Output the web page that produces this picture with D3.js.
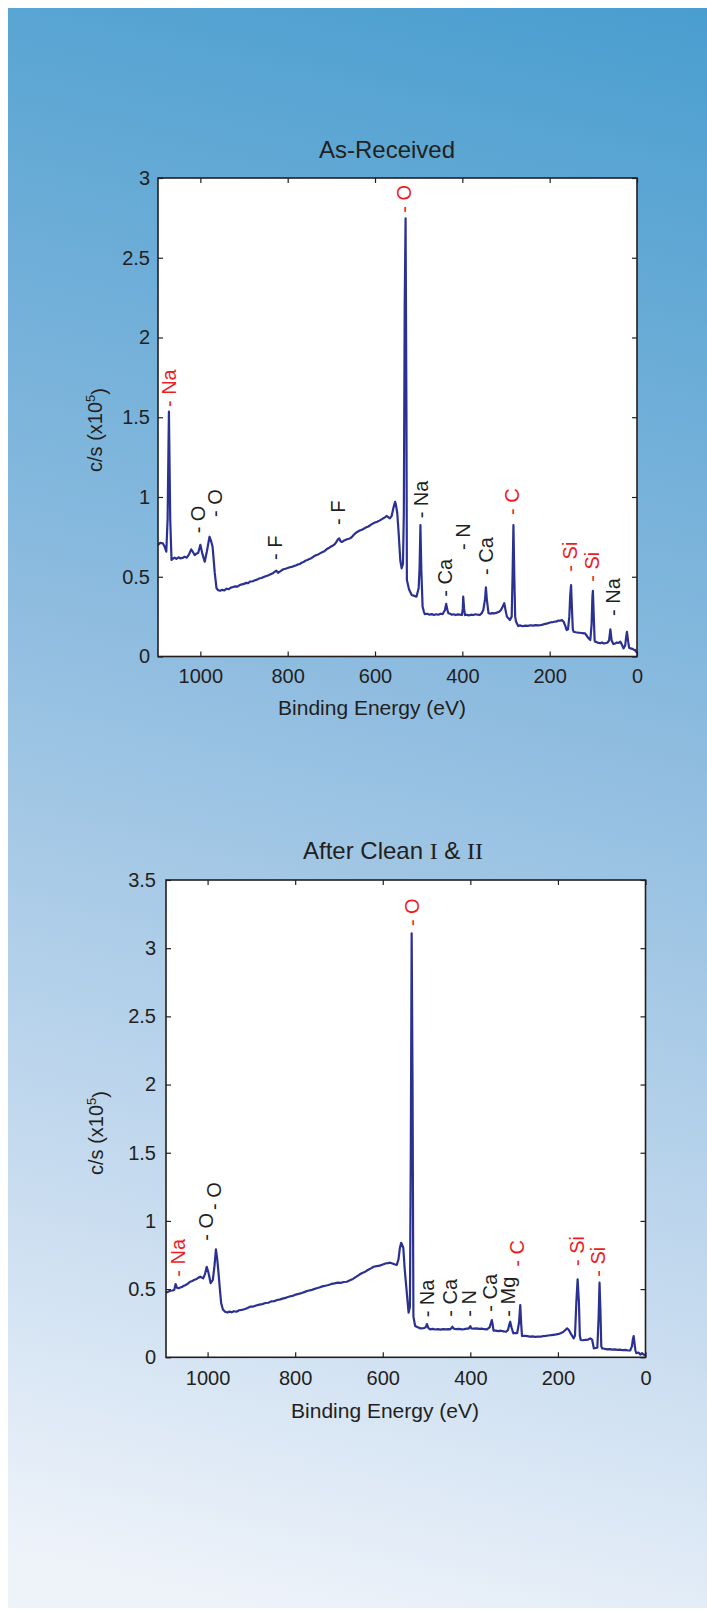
<!DOCTYPE html>
<html>
<head>
<meta charset="utf-8">
<script src="https://d3js.org/d3.v7.min.js"></script>
<style>
  body { margin: 0; background: #ffffff; }
  svg text { font-family: "Liberation Sans", Arial, Helvetica, sans-serif; fill: #231f20; }
</style>
</head>
<body>
<div id="chart"></div>
<script>
// tick values
var xTicks = [1000, 800, 600, 400, 200, 0];
var yTicksTop = [0, 0.5, 1, 1.5, 2, 2.5, 3];
var yTicksBottom = [0, 0.5, 1, 1.5, 2, 2.5, 3, 3.5];

// survey spectrum, as received: [binding energy (eV), c/s x10^5]
var asReceived = [
  [1097,0.70],[1092,0.712],[1086,0.71],[1082,0.69],[1078,0.657],[1075,0.86],[1072,1.535],[1069,0.86],
  [1066,0.605],[1062,0.615],[1059,0.62],[1055,0.612],[1050,0.622],[1046,0.615],[1041,0.618],[1036,0.625],
  [1031,0.62],[1026,0.64],[1021,0.672],[1017,0.655],[1013,0.636],[1009,0.645],[1005,0.649],[1000,0.70],
  [995,0.64],[990,0.594],[985,0.66],[979,0.751],[975,0.72],[972,0.688],[967,0.524],[963,0.428],
  [959,0.415],[955,0.412],[950,0.418],[945,0.414],[940,0.425],[935,0.422],[930,0.432],[925,0.436],
  [920,0.44],[915,0.438],[910,0.448],[905,0.452],[900,0.455],[895,0.462],[890,0.46],[887,0.469],
  [880,0.472],[875,0.478],[870,0.482],[865,0.49],[860,0.492],[855,0.498],[849,0.505],[845,0.508],
  [840,0.515],[835,0.52],[830,0.53],[826,0.538],[822,0.525],[818,0.532],[814,0.54],[810,0.547],
  [805,0.55],[800,0.555],[795,0.56],[790,0.562],[785,0.568],[780,0.572],[776,0.578],[772,0.58],
  [768,0.588],[764,0.592],[760,0.6],[755,0.605],[750,0.612],[745,0.618],[740,0.628],[734,0.636],
  [730,0.64],[725,0.648],[720,0.655],[716,0.66],[711,0.672],[706,0.68],[702,0.688],[697,0.695],
  [692,0.705],[688,0.72],[685,0.735],[682,0.741],[679,0.722],[676,0.718],[672,0.725],[668,0.73],
  [664,0.735],[660,0.738],[657,0.741],[652,0.752],[648,0.765],[644,0.775],[640,0.782],[635,0.79],
  [630,0.795],[625,0.802],[620,0.81],[615,0.815],[610,0.825],[604,0.835],[600,0.84],[595,0.845],
  [590,0.852],[585,0.86],[580,0.868],[576,0.875],[573,0.881],[569,0.872],[566,0.866],[562,0.88],
  [558,0.93],[554,0.97],[552,0.95],[549,0.898],[546,0.78],[542,0.6],[539,0.553],[536,0.58],
  [534,0.9],[532,2.2],[530,2.747],[528,1.5],[527,0.48],[522,0.42],[516,0.386],[510,0.38],
  [505,0.375],[500,0.43],[498,0.55],[496,0.824],[494,0.55],[491,0.312],[488,0.28],[486,0.266],
  [480,0.268],[475,0.262],[470,0.266],[465,0.26],[460,0.265],[455,0.262],[450,0.268],[445,0.266],
  [440,0.29],[437,0.33],[434,0.29],[432,0.271],[428,0.268],[424,0.262],[420,0.265],[415,0.26],
  [410,0.264],[405,0.262],[401,0.26],[399,0.3],[398,0.375],[396,0.3],[394,0.26],[390,0.262],
  [385,0.258],[380,0.262],[375,0.26],[370,0.265],[365,0.262],[360,0.26],[356,0.27],[352,0.292],
  [348,0.36],[346,0.434],[344,0.36],[340,0.271],[336,0.268],[332,0.272],[327,0.27],[321,0.275],
  [316,0.28],[312,0.29],[308,0.31],[304,0.334],[301,0.29],[298,0.25],[294,0.238],[291,0.229],
  [287,0.25],[285,0.5],[283,0.824],[281,0.5],[279,0.25],[277,0.218],[272,0.191],[268,0.195],
  [262,0.19],[256,0.194],[250,0.192],[244,0.196],[238,0.194],[232,0.197],[226,0.195],[222,0.196],
  [216,0.2],[210,0.205],[205,0.208],[199,0.213],[194,0.215],[189,0.218],[184,0.22],[180,0.225],
  [176,0.224],[172,0.229],[168,0.218],[164,0.19],[161,0.166],[158,0.17],[155,0.25],[153,0.38],
  [151,0.448],[149,0.3],[147,0.17],[145,0.155],[140,0.152],[135,0.15],[130,0.149],[125,0.146],
  [119,0.145],[115,0.13],[111,0.114],[107,0.103],[104,0.2],[102,0.38],[101,0.412],[99,0.25],
  [97,0.1],[96,0.093],[92,0.09],[88,0.085],[84,0.083],[80,0.088],[76,0.082],[73,0.083],
  [68,0.086],[64,0.1],[61,0.17],[58,0.1],[54,0.078],[50,0.082],[46,0.088],[42,0.085],
  [38,0.093],[34,0.07],[31,0.051],[27,0.07],[25,0.12],[23,0.155],[20,0.09],[18,0.055],
  [15,0.051],[10,0.048],[6,0.04],[4,0.041],[2,0.03],[0,0.022]
];

// survey spectrum after clean I & II
var afterClean = [
  [1095,0.474],[1090,0.48],[1085,0.488],[1080,0.49],[1076,0.495],[1073,0.537],[1070,0.51],[1067,0.506],
  [1062,0.512],[1058,0.518],[1054,0.525],[1050,0.53],[1045,0.54],[1040,0.554],[1035,0.56],[1030,0.568],
  [1025,0.575],[1020,0.585],[1017,0.591],[1013,0.585],[1010,0.579],[1006,0.61],[1002,0.664],[998,0.62],
  [993,0.543],[988,0.567],[984,0.68],[981,0.792],[978,0.72],[975,0.616],[972,0.5],[969,0.396],
  [965,0.35],[960,0.334],[955,0.328],[950,0.335],[945,0.33],[940,0.338],[934,0.334],[928,0.345],
  [922,0.348],[916,0.352],[910,0.36],[903,0.371],[896,0.372],[889,0.38],[882,0.386],[875,0.39],
  [868,0.398],[861,0.4],[855,0.41],[848,0.412],[841,0.42],[834,0.425],[827,0.432],[820,0.438],
  [813,0.446],[806,0.45],[799,0.46],[792,0.465],[785,0.472],[778,0.48],[771,0.488],[764,0.492],
  [757,0.5],[751,0.506],[745,0.512],[738,0.52],[731,0.525],[724,0.53],[717,0.538],[710,0.542],
  [703,0.548],[696,0.546],[689,0.552],[682,0.554],[675,0.565],[668,0.575],[661,0.59],[654,0.605],
  [647,0.618],[640,0.628],[634,0.64],[627,0.652],[621,0.664],[614,0.668],[607,0.672],[600,0.68],
  [594,0.688],[588,0.69],[583,0.694],[578,0.688],[573,0.682],[568,0.677],[564,0.72],[561,0.8],
  [558,0.84],[555,0.82],[553,0.8],[550,0.65],[545,0.469],[541,0.327],[538,0.371],[536,1.5],
  [534,3.108],[532,2.0],[530,0.298],[526,0.23],[520,0.22],[514,0.212],[507,0.213],[502,0.22],
  [499,0.244],[496,0.215],[492,0.205],[486,0.208],[480,0.204],[474,0.206],[468,0.203],[462,0.207],
  [456,0.205],[450,0.206],[446,0.205],[443,0.215],[441,0.224],[438,0.21],[432,0.206],[426,0.208],
  [420,0.205],[414,0.207],[408,0.21],[404,0.21],[402,0.22],[400,0.229],[398,0.212],[392,0.21],
  [386,0.212],[380,0.208],[374,0.21],[368,0.206],[362,0.205],[356,0.22],[353,0.25],[351,0.273],
  [349,0.24],[347,0.195],[342,0.196],[336,0.192],[330,0.195],[324,0.19],[318,0.188],[314,0.2],
  [311,0.24],[309,0.261],[306,0.22],[302,0.176],[298,0.178],[293,0.178],[289,0.25],[286,0.383],
  [284,0.25],[282,0.156],[276,0.158],[270,0.155],[264,0.152],[258,0.154],[252,0.15],[246,0.152],
  [240,0.151],[234,0.155],[228,0.157],[222,0.16],[216,0.162],[210,0.165],[204,0.168],[198,0.172],
  [194,0.176],[188,0.185],[183,0.2],[179,0.212],[175,0.2],[170,0.17],[166,0.15],[164,0.139],
  [161,0.16],[158,0.4],[155,0.572],[152,0.4],[150,0.16],[148,0.127],[143,0.125],[137,0.128],
  [131,0.13],[126,0.139],[122,0.13],[118,0.066],[114,0.068],[110,0.07],[107,0.3],[105,0.547],
  [103,0.35],[101,0.08],[99,0.066],[94,0.063],[88,0.058],[82,0.06],[76,0.056],[70,0.058],
  [64,0.054],[58,0.056],[52,0.052],[46,0.054],[40,0.05],[35,0.05],[31,0.08],[29,0.13],
  [27,0.156],[25,0.1],[23,0.05],[21,0.03],[16,0.035],[12,0.02],[8,0.03],[4,0.02],[0,0.017]
];

// peak labels: text, binding energy of the tick, value where the text starts, main element or not
var asReceivedLabels = [
  {text:"- Na", be:1068, at:1.564, main:true},
  {text:"- O",  be:1001, at:0.772, main:false},
  {text:"- O",  be:963,  at:0.875, main:false},
  {text:"- F",  be:826,  at:0.605, main:false},
  {text:"- F",  be:682,  at:0.824, main:false},
  {text:"- O",  be:530,  at:2.782, main:true},
  {text:"- Na", be:491,  at:0.866, main:false},
  {text:"- Ca", be:436,  at:0.375, main:false},
  {text:"- N",  be:394,  at:0.668, main:false},
  {text:"- Ca", be:343,  at:0.511, main:false},
  {text:"- C",  be:283,  at:0.887, main:true},
  {text:"- Si", be:151,  at:0.532, main:true},
  {text:"- Si", be:99.5, at:0.469, main:true},
  {text:"- Na", be:51,   at:0.254, main:false}
];

var afterCleanLabels = [
  {text:"- Na", be:1065, at:0.591, main:true},
  {text:"- O",  be:1001, at:0.855, main:false},
  {text:"- O",  be:982,  at:1.08,  main:false},
  {text:"- O",  be:530,  at:3.162, main:true},
  {text:"- Na", be:495,  at:0.293, main:false},
  {text:"- Ca", be:442,  at:0.298, main:false},
  {text:"- N",  be:400,  at:0.298, main:false},
  {text:"- Ca", be:352,  at:0.334, main:false},
  {text:"- Mg", be:310,  at:0.298, main:false},
  {text:"- C",  be:289,  at:0.664, main:true},
  {text:"- Si", be:154,  at:0.669, main:true},
  {text:"- Si", be:104.5,at:0.591, main:true}
];

var W = 707, H = 1612;
var lineColour = "#2b3192";
var redColour = "#ed1c24";

var svg = d3.select("#chart").append("svg")
  .attr("width", W)
  .attr("height", H);

// background gradient
var grad = svg.append("defs").append("linearGradient")
  .attr("id", "bg")
  .attr("gradientUnits", "userSpaceOnUse")
  .attr("x1", 640).attr("y1", 0)
  .attr("x2", 260).attr("y2", H);
grad.append("stop").attr("offset", 0).attr("stop-color", "#4a9ecf");
grad.append("stop").attr("offset", 0.45).attr("stop-color", "#90bde0");
grad.append("stop").attr("offset", 0.75).attr("stop-color", "#c3d9ee");
grad.append("stop").attr("offset", 1).attr("stop-color", "#eef3fa");

svg.append("rect")
  .attr("x", 8).attr("y", 8)
  .attr("width", W - 8).attr("height", H - 12)
  .attr("fill", "url(#bg)");

function drawPanel(p) {
  var g = svg.append("g");

  var x = d3.scaleLinear().domain([p.xMax, 0]).range([p.left, p.right]);
  var y = d3.scaleLinear().domain([0, p.yMax]).range([p.bottom, p.top]);

  g.append("rect")
    .attr("x", p.left).attr("y", p.top)
    .attr("width", p.right - p.left).attr("height", p.bottom - p.top)
    .attr("fill", "#ffffff");

  // axes, ticks pointing inward
  var bottomAxis = g.append("g")
    .attr("transform", "translate(0," + p.bottom + ")")
    .call(d3.axisBottom(x).tickValues(xTicks).tickFormat(d3.format("d"))
      .tickSizeInner(-5).tickSizeOuter(0).tickPadding(p.padX));
  var topAxis = g.append("g")
    .attr("transform", "translate(0," + p.top + ")")
    .call(d3.axisTop(x).tickValues(xTicks).tickFormat("")
      .tickSizeInner(-5).tickSizeOuter(0));
  var leftAxis = g.append("g")
    .attr("transform", "translate(" + p.left + ",0)")
    .call(d3.axisLeft(y).tickValues(p.yTicks).tickFormat(d3.format("~g"))
      .tickSizeInner(-5).tickSizeOuter(0).tickPadding(p.padY));
  var rightAxis = g.append("g")
    .attr("transform", "translate(" + p.right + ",0)")
    .call(d3.axisRight(y).tickValues(p.yTicks).tickFormat("")
      .tickSizeInner(-5).tickSizeOuter(0));

  [bottomAxis, topAxis, leftAxis, rightAxis].forEach(function(a) {
    a.select(".domain").remove();
    a.selectAll("line").attr("stroke", "#231f20").attr("stroke-width", 1.2);
    a.selectAll("text")
      .attr("fill", "#231f20")
      .style("font-size", "20px")
      .style("font-family", "'Liberation Sans', Arial, Helvetica, sans-serif");
  });

  // spectrum
  var line = d3.line()
    .x(function(d) { return x(d[0]); })
    .y(function(d) { return y(d[1]); });

  g.append("path")
    .datum(p.data)
    .attr("d", line)
    .attr("fill", "none")
    .attr("stroke", lineColour)
    .attr("stroke-width", 2.2)
    .attr("stroke-linejoin", "round");

  // frame
  g.append("rect")
    .attr("x", p.left).attr("y", p.top)
    .attr("width", p.right - p.left).attr("height", p.bottom - p.top)
    .attr("fill", "none")
    .attr("stroke", "#231f20")
    .attr("stroke-width", 1.6);

  // peak labels (rotated)
  g.selectAll(".peakLabel")
    .data(p.labels)
    .enter()
    .append("text")
    .attr("class", "peakLabel")
    .attr("transform", function(d) {
      return "translate(" + (x(d.be) + 5.5) + "," + y(d.at) + ") rotate(-90)";
    })
    .style("font-size", "20px")
    .style("fill", function(d) { return d.main ? redColour : "#231f20"; })
    .text(function(d) { return d.text; });

  // title
  var title = g.append("text")
    .attr("x", p.titleX).attr("y", p.titleY)
    .attr("text-anchor", "middle")
    .style("font-size", "24px");
  p.title.forEach(function(t) {
    title.append("tspan")
      .style("font-family", t.serif ? "'Liberation Serif', 'Times New Roman', serif" : null)
      .text(t.s);
  });

  // x label
  g.append("text")
    .attr("x", p.xlabelX).attr("y", p.xlabelY)
    .attr("text-anchor", "middle")
    .style("font-size", "21px")
    .text("Binding Energy (eV)");

  // y label
  var yl = g.append("text")
    .attr("transform", "translate(" + p.ylabelX + "," + p.ylabelY + ") rotate(-90)")
    .attr("text-anchor", "middle")
    .style("font-size", "20px");
  yl.append("tspan").text("c/s (x10");
  yl.append("tspan").attr("dy", "-0.55em").style("font-size", "13px").text("5");
  yl.append("tspan").attr("dy", "0.55em").text(")");
}

drawPanel({
  data: asReceived, labels: asReceivedLabels, yTicks: yTicksTop,
  left: 158, right: 637, top: 178, bottom: 656.5, xMax: 1097, yMax: 3,
  padX: 12, padY: 8,
  title: [{s:"As-Received"}], titleX: 387, titleY: 158,
  xlabelX: 372, xlabelY: 715, ylabelX: 102, ylabelY: 430
});

drawPanel({
  data: afterClean, labels: afterCleanLabels, yTicks: yTicksBottom,
  left: 166, right: 645.5, top: 880, bottom: 1357.3, xMax: 1095, yMax: 3.5,
  padX: 14, padY: 10,
  title: [{s:"After Clean "}, {s:"I", serif:true}, {s:" & "}, {s:"II", serif:true}],
  titleX: 393, titleY: 859,
  xlabelX: 385, xlabelY: 1418, ylabelX: 103, ylabelY: 1133
});
</script>
</body>
</html>
